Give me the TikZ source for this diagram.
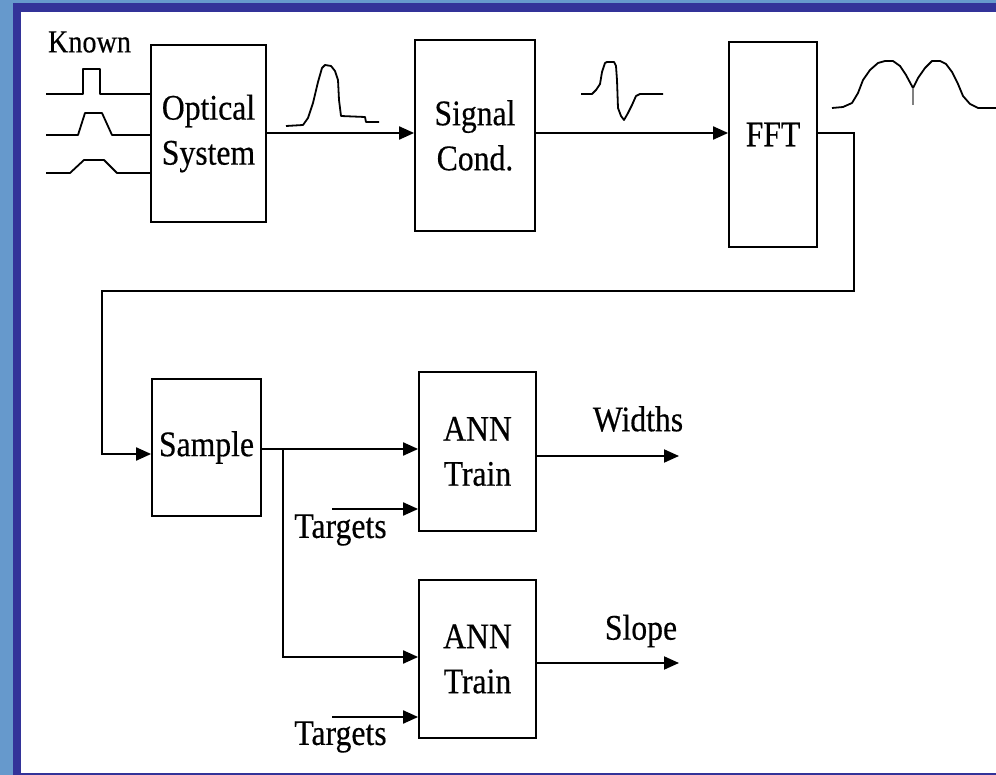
\documentclass[tikz,border=0pt]{standalone}
\usepackage{fontspec}
\setmainfont[FakeStretch=0.88, FakeBold=0.4]{Liberation Serif}
\usetikzlibrary{arrows.meta,positioning}
\definecolor{frameblue}{HTML}{6699CC}
\definecolor{framedark}{HTML}{333399}
\tikzset{
  blk/.style={draw, rectangle, line width=1.8pt, align=center, inner sep=0pt, font=\fontsize{36}{45}\selectfont},
  lbl/.style={inner sep=0pt, font=\fontsize{36}{45}\selectfont},
  arr/.style={-{Triangle[length=15pt,width=13pt]}, line width=2pt},
  wave/.style={line width=1.8pt, line join=round},
}

\begin{document}
\begin{tikzpicture}[x=1pt,y=-1pt]

\useasboundingbox (0,0) rectangle (996,775);
\fill[frameblue] (0,0) rectangle (996,775);
\fill[framedark] (13,3) rectangle (996,775);
\fill[white] (21,12) rectangle (996,773);

% blocks
\node[blk, minimum width=115pt, minimum height=177pt] (opt) at (208.5,133.5) {Optical\\System};
\node[blk, minimum width=120pt, minimum height=191pt] (sig) at (475,135.5) {Signal\\Cond.};
\node[blk, minimum width=88pt, minimum height=205pt, text depth=20pt] (fft) at (773,144.5) {FFT};
\node[blk, minimum width=109pt, minimum height=137pt] (smp) at (206.5,447.5) {Sample};
\node[blk, minimum width=117pt, minimum height=159pt] (ann1) at (477.5,451.5) {ANN\\Train};
\node[blk, minimum width=117pt, minimum height=158pt] (ann2) at (477.5,659) {ANN\\Train};

% labels
\node[lbl, font=\fontsize{32}{40}\selectfont] (known) at (89.5,42) {Known};
\node[lbl] (tg1) at (340.5,530) {Targets};
\node[lbl] (tg2) at (340.5,737) {Targets};
\node[lbl] (wd) at (638,419) {Widths};
\node[lbl] (sl) at (641,631) {Slope};

% coordinates
\coordinate (r1) at (0,133);
\coordinate (k1) at (854,291);
\coordinate (k2) at (102,454);
\coordinate (r3) at (0,449);
\coordinate (br) at (283,449);
\coordinate (r4) at (0,657);
\coordinate (t1) at (332,509);
\coordinate (t2) at (332,717);
\coordinate (o1) at (679,456);
\coordinate (o2) at (679,663);

% connectors
\draw[arr] (opt.east |- r1) -- (sig.west |- r1);
\draw[arr] (sig.east |- r1) -- (fft.west |- r1);
\draw[arr] (fft.east |- r1) -| (k1) -| (k2) -- (smp.west |- k2);
\draw[arr] (smp.east |- r3) -- (ann1.west |- r3);
\draw[arr] (br) |- (ann2.west |- r4);
\draw[arr] (t1) -- (ann1.west |- t1);
\draw[arr] (t2) -- (ann2.west |- t2);
\draw[arr] (ann1.east |- o1) -- (o1);
\draw[arr] (ann2.east |- o2) -- (o2);

% known input pulses
\draw[wave] (46,94) -- (83,94) -- (83,69) -- (100,69) -- (100,94) -- (151,94);
\draw[wave] (46,135) -- (78,135) -- (85,113) -- (102,113) -- (112,135) -- (151,135);
\draw[wave] (46,173) -- (70,173) -- (84,160) -- (104,160) -- (117,173) -- (151,173);

% signal shapes
\draw[wave] (286,126) -- (303,125) -- (308,118) -- (313,103) -- (318,82) -- (322,68)
  -- (325,65) -- (331,66) -- (335,71) -- (338,80) -- (339,100) -- (341,116)
  -- (365,117) -- (366,122) -- (379,122);
\draw[wave] (581,94) -- (592,94) -- (596,90) -- (600,84) -- (602,72) -- (605,63)
  -- (607,62) -- (614,62) -- (616,66) -- (617,80) -- (618,108) -- (621,116)
  -- (624,120) -- (628,113) -- (632,105) -- (636,96) -- (640,94) -- (663,94);
\draw[wave] (832,108) -- (843,107) -- (852,103) -- (858,93) -- (863,80) -- (870,70)
  -- (878,63) -- (885,61) -- (893,61) -- (900,66) -- (906,75) -- (913,88)
  -- (918,78) -- (925,68) -- (932,61) -- (940,61) -- (946,64) -- (952,72)
  -- (958,84) -- (963,96) -- (970,104) -- (978,108) -- (996,108);
\draw[gray, line width=1.2pt] (913,88) -- (913,105);

\end{tikzpicture}
\end{document}
